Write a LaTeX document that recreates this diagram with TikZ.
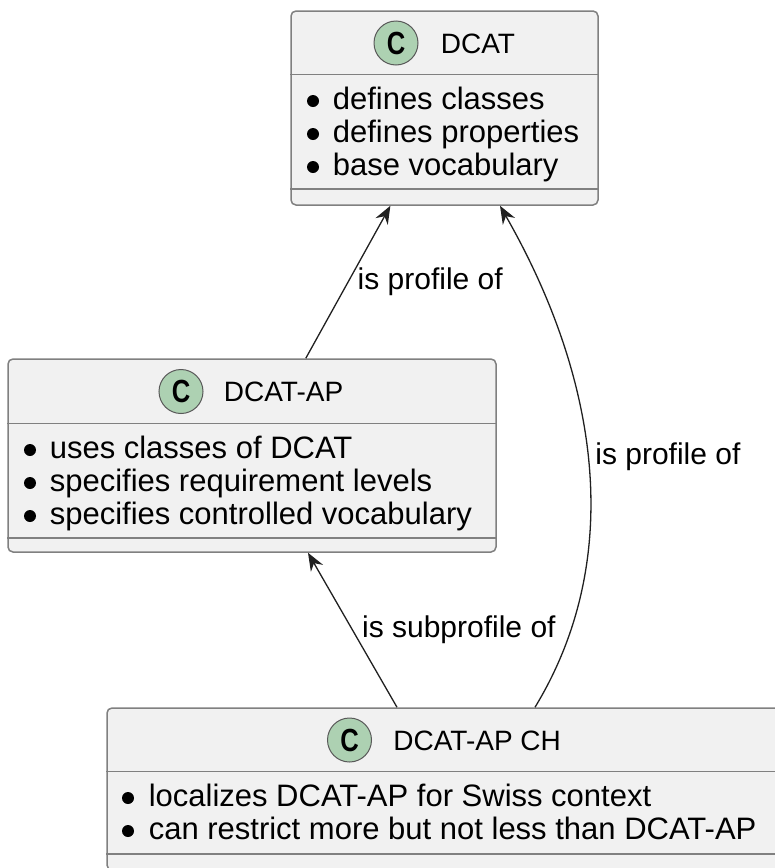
\documentclass[tikz,border=0pt]{standalone}
\usepackage{fontspec}
\setmainfont{Liberation Sans}
\usepackage{graphicx}
\usepackage{tikz}
\usetikzlibrary{calc,positioning,arrows.meta,fit}
\definecolor{classfill}{HTML}{F1F1F1}
\definecolor{classline}{HTML}{808080}
\definecolor{spotfill}{HTML}{ADD1B2}
\definecolor{relline}{HTML}{202020}
\tikzset{
    every node/.style={
        font=\fontsize{15.5pt}{16.5pt}\selectfont
    },
    classbox/.style={
        shape=rectangle,
        draw=classline,
        fill=classfill,
        line width=0.75pt,
        rounded corners=2.5pt,
        inner sep=0pt
    },
    spot/.style={
        shape=circle,
        draw=black!65,
        fill=spotfill,
        line width=0.5pt,
        minimum size=22pt,
        inner sep=0pt,
        font=\fontsize{16pt}{16pt}\selectfont\bfseries
    },
    title/.style={
        inner sep=0pt,
        text height=10pt,
        text depth=0pt,
        font=\fontsize{14pt}{16pt}\selectfont
    }
}

\begin{document}
\begin{tikzpicture}[
		x=0.5pt, y=-0.5pt,
		node distance=6.5pt,
		dot/.style={circle, fill=black, minimum size=6pt, inner sep=0pt, anchor=center},
		attr/.style={inner sep=0pt, text height=11pt, text depth=3pt, anchor=west},
		sep/.style={draw=classline, line width=0.75pt},
		rel/.style={draw=relline, line width=0.65pt, -{Stealth[length=9pt, width=7pt, inset=3pt]}},
		lbl/.style={inner sep=0pt, font=\fontsize{15pt}{16pt}\selectfont}
		]
		\clip (0,0) rectangle (775,868);
		
		% DCAT
		\node (dcat) [classbox, fit={(291,11) (598,205)}] {};
		\draw [sep] ($(dcat.north west)+(0,64)$) -- ($(dcat.north east)+(0,64)$);
		\draw [sep] ($(dcat.south west)+(0,-17)$) -- ($(dcat.south east)+(0,-17)$);
		\node (dcatspot) at (396,43) [spot] {\scalebox{0.8}[1]{C}};
		\node (dcattitle) [right=11pt of dcatspot, title] {DCAT};
		\node (dcatdot1) at (313,101) [dot] {};
		\node (dcatdot2) [below=16.5pt of dcatdot1.center, dot] {};
		\node (dcatdot3) [below=16.5pt of dcatdot2.center, dot] {};
		\node (dcatattr1) [right=of dcatdot1, attr] {defines classes};
		\node (dcatattr2) [right=of dcatdot2, attr] {defines properties};
		\node (dcatattr3) [right=of dcatdot3, attr] {base vocabulary};
		
		% DCAT-AP
		\node (dcatap) [classbox, fit={(8,359) (496,552)}] {};
		\draw [sep] ($(dcatap.north west)+(0,65)$) -- ($(dcatap.north east)+(0,65)$);
		\draw [sep] ($(dcatap.south west)+(0,-15)$) -- ($(dcatap.south east)+(0,-15)$);
		\node (apspot) at (181,391.5) [spot] {\scalebox{0.8}[1]{C}};
		\node (aptitle) [right=10pt of apspot, title] {DCAT-AP};
		\node (apdot1) at (30,450) [dot] {};
		\node (apdot2) [below=16.5pt of apdot1.center, dot] {};
		\node (apdot3) [below=16.5pt of apdot2.center, dot] {};
		\node (apattr1) [right=of apdot1, attr] {uses classes of DCAT};
		\node (apattr2) [right=of apdot2, attr] {specifies requirement levels};
		\node (apattr3) [right=of apdot3, attr] {specifies controlled vocabulary};
		
		% DCAT-AP CH
		\node (dcatapch) [classbox, fit={(107,708) (781,870)}] {};
		\draw [sep] ($(dcatapch.north west)+(0,64)$) -- ($(dcatapch.north east)+(0,64)$);
		\draw [sep] ($(dcatapch.south west)+(0,-17)$) -- ($(dcatapch.south east)+(0,-17)$);
		\node (chspot) at (349.5,740) [spot] {\scalebox{0.8}[1]{C}};
		\node (chtitle) [right=10.5pt of chspot, title] {DCAT-AP CH};
		\node (chdot1) at (128,798) [dot] {};
		\node (chdot2) [below=16.5pt of chdot1.center, dot] {};
		\node (chattr1) [right=7pt of chdot1, attr] {localizes DCAT-AP for Swiss context};
		\node (chattr2) [right=7pt of chdot2, attr] {can restrict more but not less than DCAT-AP};
		
		\draw [rel] (dcatap) -- (dcat) node [midway, right=4.5pt, lbl] (lblprof) {is profile of};
		\draw [rel] (dcatapch) -- (dcatap) node [midway, right=4.5pt, lbl] (lblsub) {is subprofile of};
		\draw [rel] ($(dcatapch.north)+(91,0)$) .. controls +(90,-148) and +(100,175) .. ($(dcat.south)+(55.5,0)$) node [pos=0.52, right=3.5pt, lbl] (lblchprof) {is profile of};
	\end{tikzpicture}
\end{document}
